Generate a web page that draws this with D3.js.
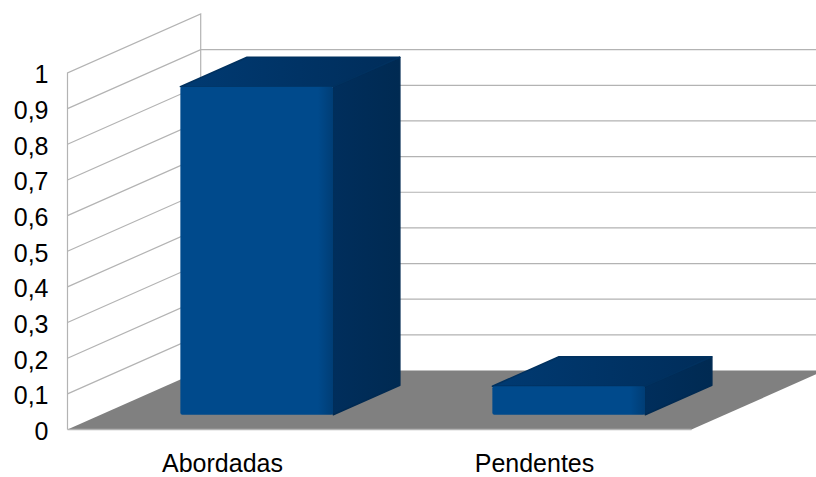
<!DOCTYPE html>
<html>
<head>
<meta charset="utf-8">
<script src="https://cdn.jsdelivr.net/npm/d3@7"></script>
<style>
  html, body { margin: 0; padding: 0; background: #fff; }
  svg { display: block; }
  text { font-family: "Liberation Sans", Arial, sans-serif; fill: #000; }
</style>
</head>
<body>
<svg id="chart" width="816" height="477"></svg>
<script>
// ---- data ----
const categories = ["Abordadas", "Pendentes"];
const values = [0.92, 0.08];
const tickValues = [0, 0.1, 0.2, 0.3, 0.4, 0.5, 0.6, 0.7, 0.8, 0.9, 1];
const tickLabels = ["0", "0,1", "0,2", "0,3", "0,4", "0,5", "0,6", "0,7", "0,8", "0,9", "1"];

// ---- layout ----
const svg = d3.select("#chart");
const DX = 133.2, DY = -59;           // full-depth oblique offset
const yScale = d3.scaleLinear().domain([0, 1]).range([429.5, 73]);
const xBand = d3.scaleBand().domain(categories).range([67.5, 691.5])
  .paddingInner(0.51).paddingOuter(0.255);
const xCat = d3.scaleBand().domain(categories).range([67.5, 691.5]);
const zScale = d3.scaleLinear().domain([0, 1]).range([0, 1]);
const proj = (x, v, z) => [x + zScale(z) * DX, yScale(v) + zScale(z) * DY];

const defs = svg.append("defs");
function grad(id, stops, x2 = "100%", y2 = "0%") {
  const g = defs.append("linearGradient").attr("id", id)
    .attr("x1", "0%").attr("y1", "0%").attr("x2", x2).attr("y2", y2);
  stops.forEach(([o, c]) => g.append("stop").attr("offset", o).attr("stop-color", c));
}
grad("gFront", [["0%", "#004a8c"], ["90%", "#004a8c"], ["100%", "#003d75"]]);
grad("gTop", [["0%", "#003a72"], ["100%", "#002d5a"]]);
grad("gSide", [["0%", "#002e5c"], ["100%", "#002a52"]]);

const gridColor = "#b3b3b3";
const line = d3.line();

// ---- walls ----
const wallG = svg.append("g");
wallG.append("path")
  .attr("d", line([proj(67.5, 0, 0), proj(67.5, 1, 0), proj(67.5, 1, 1), proj(67.5, 0, 1)]))
  .attr("fill", "none").attr("stroke", gridColor).attr("stroke-width", 1.2);
tickValues.filter(v => v > 0 && v < 1).forEach(v => {
  wallG.append("path")
    .attr("d", line([proj(67.5, v, 0), proj(67.5, v, 1), proj(691.5, v, 1)]))
    .attr("fill", "none").attr("stroke", gridColor).attr("stroke-width", 1.2);
});

// ---- floor ----
svg.append("path")
  .attr("d", line([proj(67.5, 0, 0), proj(691.5, 0, 0), proj(691.5, 0, 1), proj(67.5, 0, 1)]) + "Z")
  .attr("fill", "#808080");
svg.append("path")
  .attr("d", line([proj(67.5, 0, 0), proj(691.5, 0, 0)]))
  .attr("stroke", gridColor).attr("stroke-width", 1.5);

// ---- bars ----
const z0 = 0.25, z1 = 0.75;
const barG = svg.append("g");
categories.forEach((c, i) => {
  const xl = xBand(c), xr = xBand(c) + xBand.bandwidth(), v = values[i];
  const g = barG.append("g");
  g.append("path")
    .attr("d", line([proj(xr, 0, z0), proj(xr, v, z0), proj(xr, v, z1), proj(xr, 0, z1)]) + "Z")
    .attr("fill", "url(#gSide)").attr("stroke", "#002a52").attr("stroke-width", 1.5)
    .attr("stroke-linejoin", "round");
  g.append("path")
    .attr("d", line([proj(xl, v, z0), proj(xr, v, z0), proj(xr, v, z1), proj(xl, v, z1)]) + "Z")
    .attr("fill", "url(#gTop)").attr("stroke", "#00315f").attr("stroke-width", 1.5)
    .attr("stroke-linejoin", "round");
  const [fx, fy] = proj(xl, v, z0);
  const [fx2, fy2] = proj(xr, 0, z0);
  g.append("rect")
    .attr("x", fx).attr("y", fy).attr("width", fx2 - fx).attr("height", fy2 - fy)
    .attr("rx", 2).attr("fill", "url(#gFront)");
});

// ---- value axis labels ----
svg.append("g").selectAll("text").data(tickValues).join("text")
  .attr("x", 48.5).attr("y", d => yScale(d) + 10.3)
  .attr("text-anchor", "end").attr("font-size", 25)
  .text((d, i) => tickLabels[i]);

// ---- category labels ----
svg.append("g").selectAll("text").data(categories).join("text")
  .attr("x", d => xCat(d) + xCat.bandwidth() / 2 - 1).attr("y", 472)
  .attr("text-anchor", "middle").attr("font-size", 25)
  .text(d => d);
</script>
</body>
</html>
